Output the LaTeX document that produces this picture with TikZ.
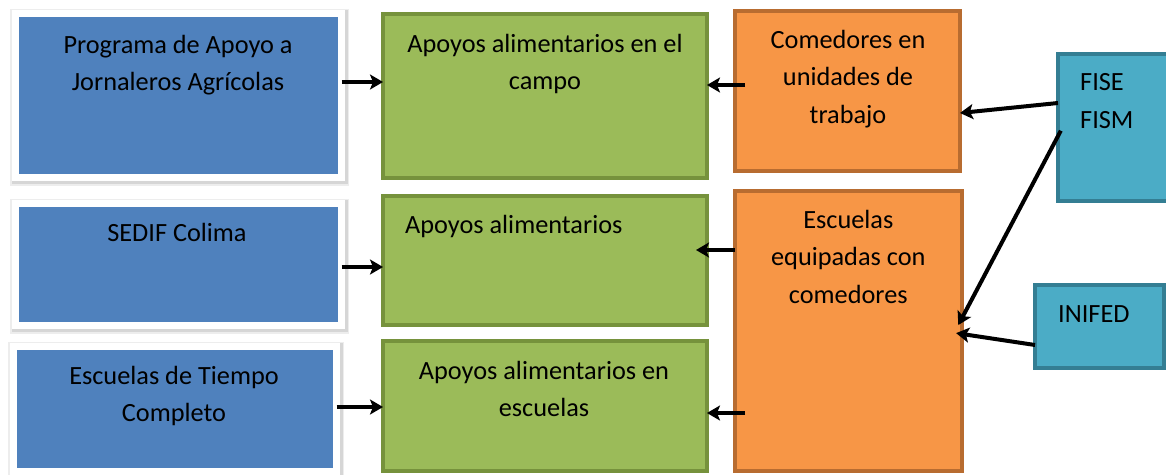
\documentclass[tikz,border=0pt]{standalone}
\usepackage{fontspec}
\setmainfont{Carlito}
\usetikzlibrary{arrows.meta}

\definecolor{azul}{RGB}{79,129,189}
\definecolor{verde}{RGB}{155,187,89}
\definecolor{verdeb}{RGB}{118,146,60}
\definecolor{naranja}{RGB}{247,150,70}
\definecolor{naranjab}{RGB}{184,108,48}
\definecolor{turq}{RGB}{75,172,198}
\definecolor{turqb}{RGB}{52,126,147}

\tikzset{
  caja/.style={inner sep=0pt, outer sep=0pt},
  % white frame with a soft grey rim under it
  azulbox/.style={caja, fill=azul, draw=white, line width=7pt,
    preaction={draw=black!7, line width=13pt, transform canvas={xshift=1pt,yshift=-2pt}},
    preaction={draw=black!16, line width=10pt, transform canvas={xshift=1pt,yshift=-1.5pt}}},
  verdebox/.style={caja, fill=verde, draw=verdeb, line width=4pt},
  naranjabox/.style={caja, fill=naranja, draw=naranjab, line width=4pt},
  turqbox/.style={caja, fill=turq, draw=turqb, line width=4pt},
  % base = baseline of the last line
  txt/.style={inner sep=0pt, align=center, anchor=base,
    font=\fontsize{26.3}{37.5}\selectfont},
  txtl/.style={txt, align=left, anchor=base west},
  flecha/.style={-{Stealth[length=13pt,width=15pt,inset=3pt]}, line width=4pt}
}

\begin{document}
\begin{tikzpicture}[x=1pt,y=-1pt]
    \useasboundingbox (0,0) rectangle (1166,474);

    % azul
    \node[azulbox, minimum width=326, minimum height=164] (B1) at (178.5,95.5) {};
    \node[azulbox, minimum width=326, minimum height=122] (B2) at (178.5,264.5) {};
    \node[azulbox, minimum width=323, minimum height=125] (B3) at (175,409) {};

    \node[txt] (TB1) at (178,90.7) {Programa de Apoyo a\\Jornaleros Agrícolas};
    \node[txt] (TB2) at (177,241.7) {SEDIF Colima};
    \node[txt] (TB3) at (174,421.7) {Escuelas de Tiempo\\Completo};

    % verde
    \node[verdebox, minimum width=324, minimum height=164] (G1) at (545,96) {};
    \node[verdebox, minimum width=324, minimum height=129] (G2) at (545,260.5) {};
    \node[verdebox, minimum width=324, minimum height=130] (G3) at (545,406) {};

    \node[txt] (TG1) at (545,89.5) {Apoyos alimentarios en el\\campo};
    \node[txtl] (TG2) at (405,233.3) {Apoyos alimentarios};
    \node[txt] (TG3) at (544,416.7) {Apoyos alimentarios en\\escuelas};

    % naranja
    \node[naranjabox, minimum width=225, minimum height=160] (O1) at (847.5,91) {};
    \node[naranjabox, minimum width=227, minimum height=280] (O2) at (848.5,331) {};

    \node[txt] (TO1) at (848,123) {Comedores en\\unidades de\\trabajo};
    \node[txt] (TO2) at (848.3,303.3) {Escuelas\\equipadas con\\comedores};

    % turquesa
    \node[turqbox, minimum width=124, minimum height=147] (T1) at (1120,127.5) {};
    \node[turqbox, minimum width=129, minimum height=83] (T2) at (1099.5,326.5) {};

    \node[txtl] (TT1) at (1080,128.3) {FISE\\FISM};
    \node[txtl] (TT2) at (1058,322.7) {INIFED};

    % flechas
    \draw[flecha] (B1.east |- 0,82) -- (G1.west |- 0,82);
    \draw[flecha] (B2.east |- 0,267) -- (G2.west |- 0,267);
    \draw[flecha] (B3.east |- 0,407) -- (G3.west |- 0,407);

    \draw[flecha, shorten <=-10pt] (O1.west |- 0,85) -- (G1.east |- 0,85);
    \draw[flecha, shorten >=-11pt] (O2.west |- 0,250) -- (G2.east |- 0,250);
    \draw[flecha, shorten <=-10pt] (O2.west |- 0,413) -- (G3.east |- 0,413);

    \draw[flecha] (T1.west |- 0,103) -- (O1.east |- 0,113);
    \draw[flecha, shorten <=-6pt, shorten >=-8pt] (T1.west |- 0,136) -- (O2.east |- 0,318);
    \draw[flecha, shorten >=-6pt] (T2.west |- 0,345) -- (O2.east |- 0,334);

\end{tikzpicture}
\end{document}
